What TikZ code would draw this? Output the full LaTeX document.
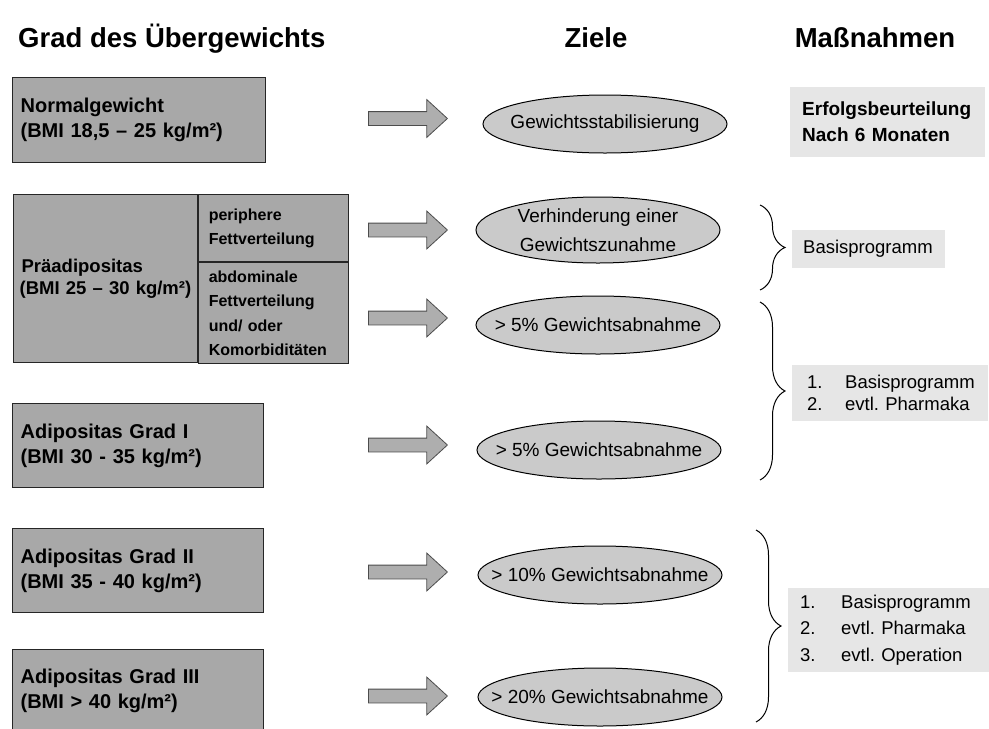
\documentclass[tikz,border=0pt]{standalone}
\usepackage{fontspec}
\setmainfont{Liberation Sans}
\usepackage{tikz}
\usetikzlibrary{shapes.geometric,shapes.arrows,decorations.pathreplacing}
\definecolor{boxgray}{RGB}{168,168,168}
\definecolor{ovalgray}{RGB}{202,202,202}
\definecolor{arrowgray}{RGB}{174,174,174}
\definecolor{notegray}{RGB}{230,230,230}
\newcommand{\nr}[1]{\makebox[41pt][l]{#1}}

\begin{document}
\begin{tikzpicture} [x=1pt,y=-1pt,
        titel/.style={font=\fontsize{27.5}{32}\selectfont\bfseries, inner sep=0pt},
        gradbox/.style={draw=black!85, line width=1.2pt, fill=boxgray, anchor=north west, inner xsep=8pt, inner ysep=0pt, align=left, font=\fontsize{20}{25}\selectfont\bfseries},
        ziel/.style={ellipse, draw=black, line width=1pt, fill=ovalgray, minimum width=244pt, minimum height=58pt, inner sep=0pt},
        zieltxt/.style={inner sep=0pt, align=center, font=\fontsize{19}{29}\selectfont},
        pfeil/.style={single arrow, draw=black!70, line width=0.8pt, fill=arrowgray, anchor=tail, minimum height=79pt, minimum width=37pt, inner xsep=0pt, inner ysep=6.5pt, single arrow head extend=12pt, single arrow tip angle=85},
        notiz/.style={fill=notegray, anchor=north west, align=left, inner ysep=0pt, font=\fontsize{18.5}{22}\selectfont},
        klammer/.style={decorate, decoration={brace, amplitude=25pt}, line width=1pt}]
    \useasboundingbox (0,0) rectangle (989,729);

    % Spaltenkoepfe
    \node[titel, anchor=base west] (grad) at (18,47) {Grad des Übergewichts};
    \node[titel, anchor=base] (ziele) at (596,47) {Ziele};
    \node[titel, anchor=base] (massnahmen) at (875,47) {Maßnahmen};

    % Grad des Uebergewichts
    \node[gradbox, text width=237pt, minimum height=85pt] (normal) at (12,77) {Normalgewicht\\(BMI 18,5 – 25 kg/m²)};
    \node[gradbox, text width=172pt, minimum height=168pt, inner xsep=6pt, font=\fontsize{18.5}{22}\selectfont\bfseries] (praeadip) at (13,194) {\mbox{\hspace{2pt}Präadipositas}\\\mbox{(BMI 25 – 30 kg/m²)}};
    \node[gradbox, text width=130pt, minimum height=67pt, inner xsep=10pt, font=\fontsize{16}{24}\selectfont\bfseries] (peripher) at (praeadip.north east) {periphere\\Fettverteilung};
    \node[gradbox, text width=130pt, minimum height=101pt, inner xsep=10pt, font=\fontsize{16}{24.5}\selectfont\bfseries] (abdominal) at (peripher.south west) {abdominale\\Fettverteilung\\und/ oder\\Komorbiditäten};
    \node[gradbox, text width=235pt, minimum height=84pt] (grad1) at (12,403) {Adipositas Grad I\\(BMI 30 - 35 kg/m²)};
    \node[gradbox, text width=235pt, minimum height=84pt] (grad2) at (12,528) {Adipositas Grad II\\(BMI 35 - 40 kg/m²)};
    \node[gradbox, text width=235pt, minimum height=82pt] (grad3) at (12,649) {Adipositas Grad III\\(BMI > 40 kg/m²)};

    % Pfeile
    \node[pfeil] (pfeil1) at (368,118.5) {}; \node[pfeil] (pfeil2) at (368,230) {}; \node[pfeil] (pfeil3) at (368,318) {};
    \node[pfeil] (pfeil4) at (368,445) {}; \node[pfeil] (pfeil5) at (368,572) {}; \node[pfeil] (pfeil6) at (368,696) {};

    % Ziele
    \node[ziel, label={[zieltxt]center:Gewichtsstabilisierung}] (ziel1) at (605,124) {};
    \node[ziel, minimum height=66pt, label={[zieltxt]center:{Verhinderung einer\\Gewichtszunahme}}] (ziel2) at (598,230) {};
    \node[ziel, label={[zieltxt]center:{> 5\% Gewichtsabnahme}}] (ziel3) at (598,325) {};
    \node[ziel, label={[zieltxt]center:{> 5\% Gewichtsabnahme}}] (ziel4) at (599,450) {};
    \node[ziel, label={[zieltxt]center:{> 10\% Gewichtsabnahme}}] (ziel5) at (600,575) {};
    \node[ziel, label={[zieltxt]center:{> 20\% Gewichtsabnahme}}] (ziel6) at (600,697) {};

    % Massnahmen
    \node[notiz, text width=171pt, minimum height=70pt, inner xsep=12pt, font=\fontsize{19}{26}\selectfont\bfseries] (erfolg) at (790,87) {Erfolgsbeurteilung\\Nach 6 Monaten};
    \node[notiz, text width=131pt, minimum height=38pt, inner xsep=11pt] (basis) at (792,230) {Basisprogramm};
    \node[notiz, text width=172pt, minimum height=56pt, inner xsep=12pt] (liste2) at (792,365) {\nr{\hspace{3pt}1.}Basisprogramm\\\nr{\hspace{3pt}2.}evtl.\ Pharmaka};
    \node[notiz, text width=177pt, minimum height=84pt, inner xsep=12pt, font=\fontsize{18.5}{26.5}\selectfont] (liste3) at (788,588) {\nr{1.}Basisprogramm\\\nr{2.}evtl.\ Pharmaka\\\nr{3.}evtl.\ Operation};

    % Klammern
    \coordinate (k1oben) at (760,205); \coordinate (k1unten) at (760,290);
    \coordinate (k2oben) at (760,302); \coordinate (k2unten) at (760,480);
    \coordinate (k3oben) at (756,530); \coordinate (k3unten) at (756,722);
    \draw[klammer] (k1oben) -- (k1unten); \draw[klammer] (k2oben) -- (k2unten); \draw[klammer] (k3oben) -- (k3unten);
\end{tikzpicture}
\end{document}
